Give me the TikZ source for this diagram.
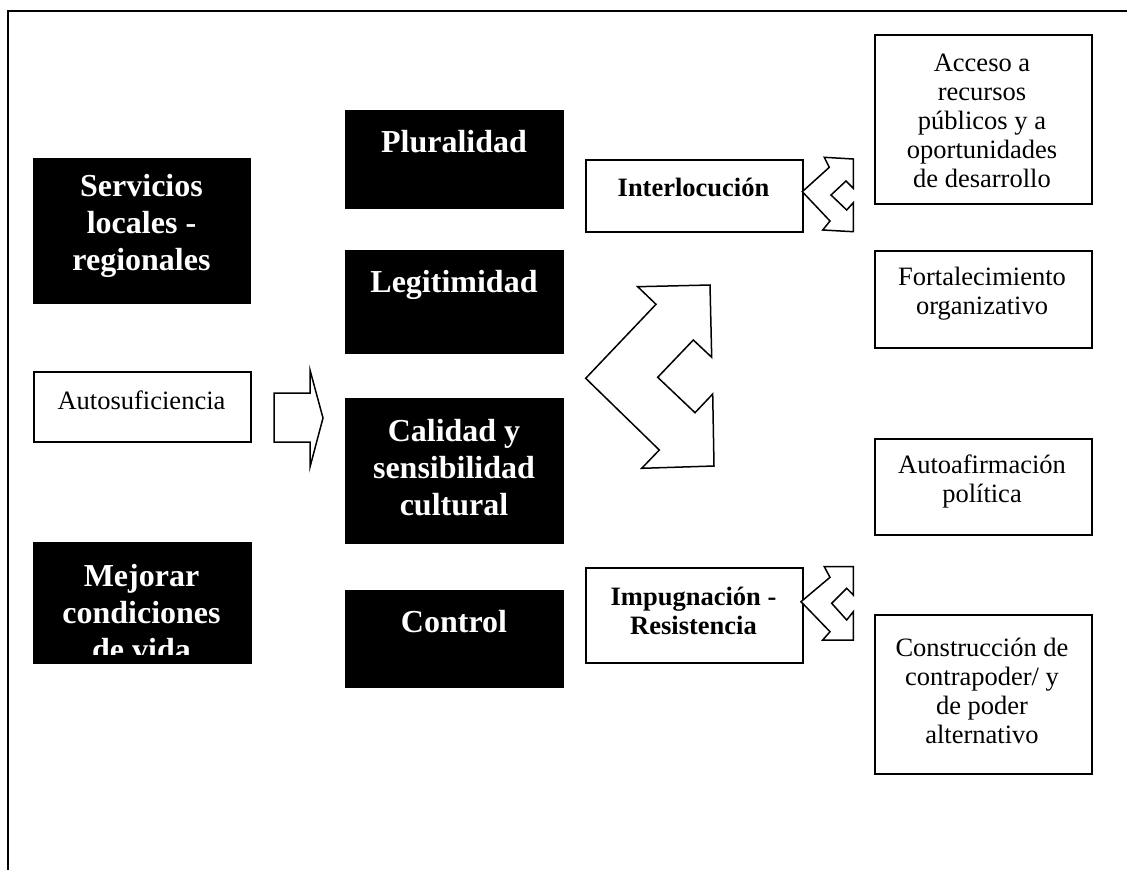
\documentclass[tikz,border=0pt]{standalone}
\usepackage{fontspec}
\setmainfont{Liberation Serif}
\begin{document}
\begin{tikzpicture}[x=1pt,y=-1pt,
  darkbox/.style={draw=black, fill=black, line width=1pt, inner sep=0pt, anchor=north west},
  lightbox/.style={draw=black, fill=white, line width=1.5pt, inner sep=0pt, anchor=north west},
  bigtext/.style={text=white, font=\fontsize{32}{37}\selectfont\bfseries, align=center, inner sep=0pt},
  plaintext/.style={font=\fontsize{26.5}{29}\selectfont, align=center, inner sep=0pt},
  boldtext/.style={font=\fontsize{26.5}{28.5}\selectfont\bfseries, align=center, inner sep=0pt},
  blockarrow/.style={draw=black, fill=white, line width=1.5pt, line join=miter}
]
\useasboundingbox (0,0) rectangle (1127,870);

% outer frame (top and left edges)
\draw[line width=2pt] (1127,11) -- (8.3,11) -- (8.3,870);

% left column
\node[darkbox, minimum width=217, minimum height=145] (serv) at (33,158) {};
\node[bigtext] (serv-t) at (141.5,226) {Servicios\\locales -\\regionales};
\node[lightbox, minimum width=217, minimum height=70] (auto) at (33,371) {};
\node[plaintext] (auto-t) at (141.5,400) {Autosuficiencia};
\node[darkbox, minimum width=218, minimum height=121] (mejor) at (33,542) {};
\begin{scope}
  \clip (33,542) rectangle (252,654);
  \node[bigtext] (mejor-t) at (141.5,613) {Mejorar\\condiciones\\de vida};
\end{scope}

% middle column
\node[darkbox, minimum width=218, minimum height=98] (plur) at (345,110) {};
\node[bigtext] (plur-t) at (454,141.7) {Pluralidad};
\node[darkbox, minimum width=218, minimum height=103] (legit) at (345,250) {};
\node[bigtext] (legit-t) at (454,285) {Legitimidad};
\node[darkbox, minimum width=218, minimum height=145] (calid) at (345,398) {};
\node[bigtext] (calid-t) at (454,468) {Calidad y\\sensibilidad\\cultural};
\node[darkbox, minimum width=218, minimum height=97] (contr) at (345,590) {};
\node[bigtext] (contr-t) at (454,622) {Control};

% outcome boxes beside the middle column
\node[lightbox, minimum width=217, minimum height=72] (inter) at (585,159) {};
\node[boldtext] (inter-t) at (693.5,187) {Interlocución};
\node[lightbox, minimum width=217, minimum height=95] (impug) at (585,567) {};
\node[boldtext] (impug-t) at (693.5,611) {Impugnación -\\Resistencia};

% right column
\node[lightbox, minimum width=217, minimum height=169] (acceso) at (874,34) {};
\node[plaintext] (acceso-t) at (982,121) {Acceso a\\recursos\\públicos y a\\oportunidades\\de desarrollo};
\node[lightbox, minimum width=217, minimum height=97] (fortal) at (874,250) {};
\node[plaintext] (fortal-t) at (982,294) {Fortalecimiento\\organizativo};
\node[lightbox, minimum width=217, minimum height=96] (autoaf) at (874,438) {};
\node[plaintext] (autoaf-t) at (982,481) {Autoafirmación\\política};
\node[lightbox, minimum width=217, minimum height=159] (constr) at (874,614) {};
\node[plaintext] (constr-t) at (982,691) {Construcción de\\contrapoder/ y\\de poder\\alternativo};

% block arrow: Autosuficiencia -> Calidad
\draw[blockarrow] (274,393) -- (310,393) -- (310,370) -- (323,418)
  -- (310,467) -- (310,442) -- (274,442) -- cycle;

% forked arrow from Interlocucion
\draw[blockarrow] (802.3,191.7) -- (829.3,167.3) -- (824.3,157.3) -- (853.3,159)
  -- (853.3,188.3) -- (846,181) -- (831,195) -- (846.7,210) -- (853.3,202.7)
  -- (853.3,231.7) -- (822.7,230) -- (830,221) -- cycle;

% large forked arrow in the centre
\draw[blockarrow] (585.7,378.3) -- (656,304.3) -- (637.7,286.7) -- (710,285)
  -- (711.7,357.3) -- (693.3,340) -- (657.7,377.3) -- (695,412.7) -- (712.7,394)
  -- (714,466) -- (641.7,468.3) -- (659.3,450) -- cycle;

% forked arrow from Impugnacion
\draw[blockarrow] (801,601.7) -- (830,577.3) -- (824.3,566.7) -- (853.3,566.7)
  -- (853.3,595) -- (846.7,588.3) -- (831.7,603.3) -- (846.7,620) -- (853.3,611.7)
  -- (853.3,640) -- (822.7,640) -- (830,631.7) -- cycle;
\end{tikzpicture}
\end{document}
